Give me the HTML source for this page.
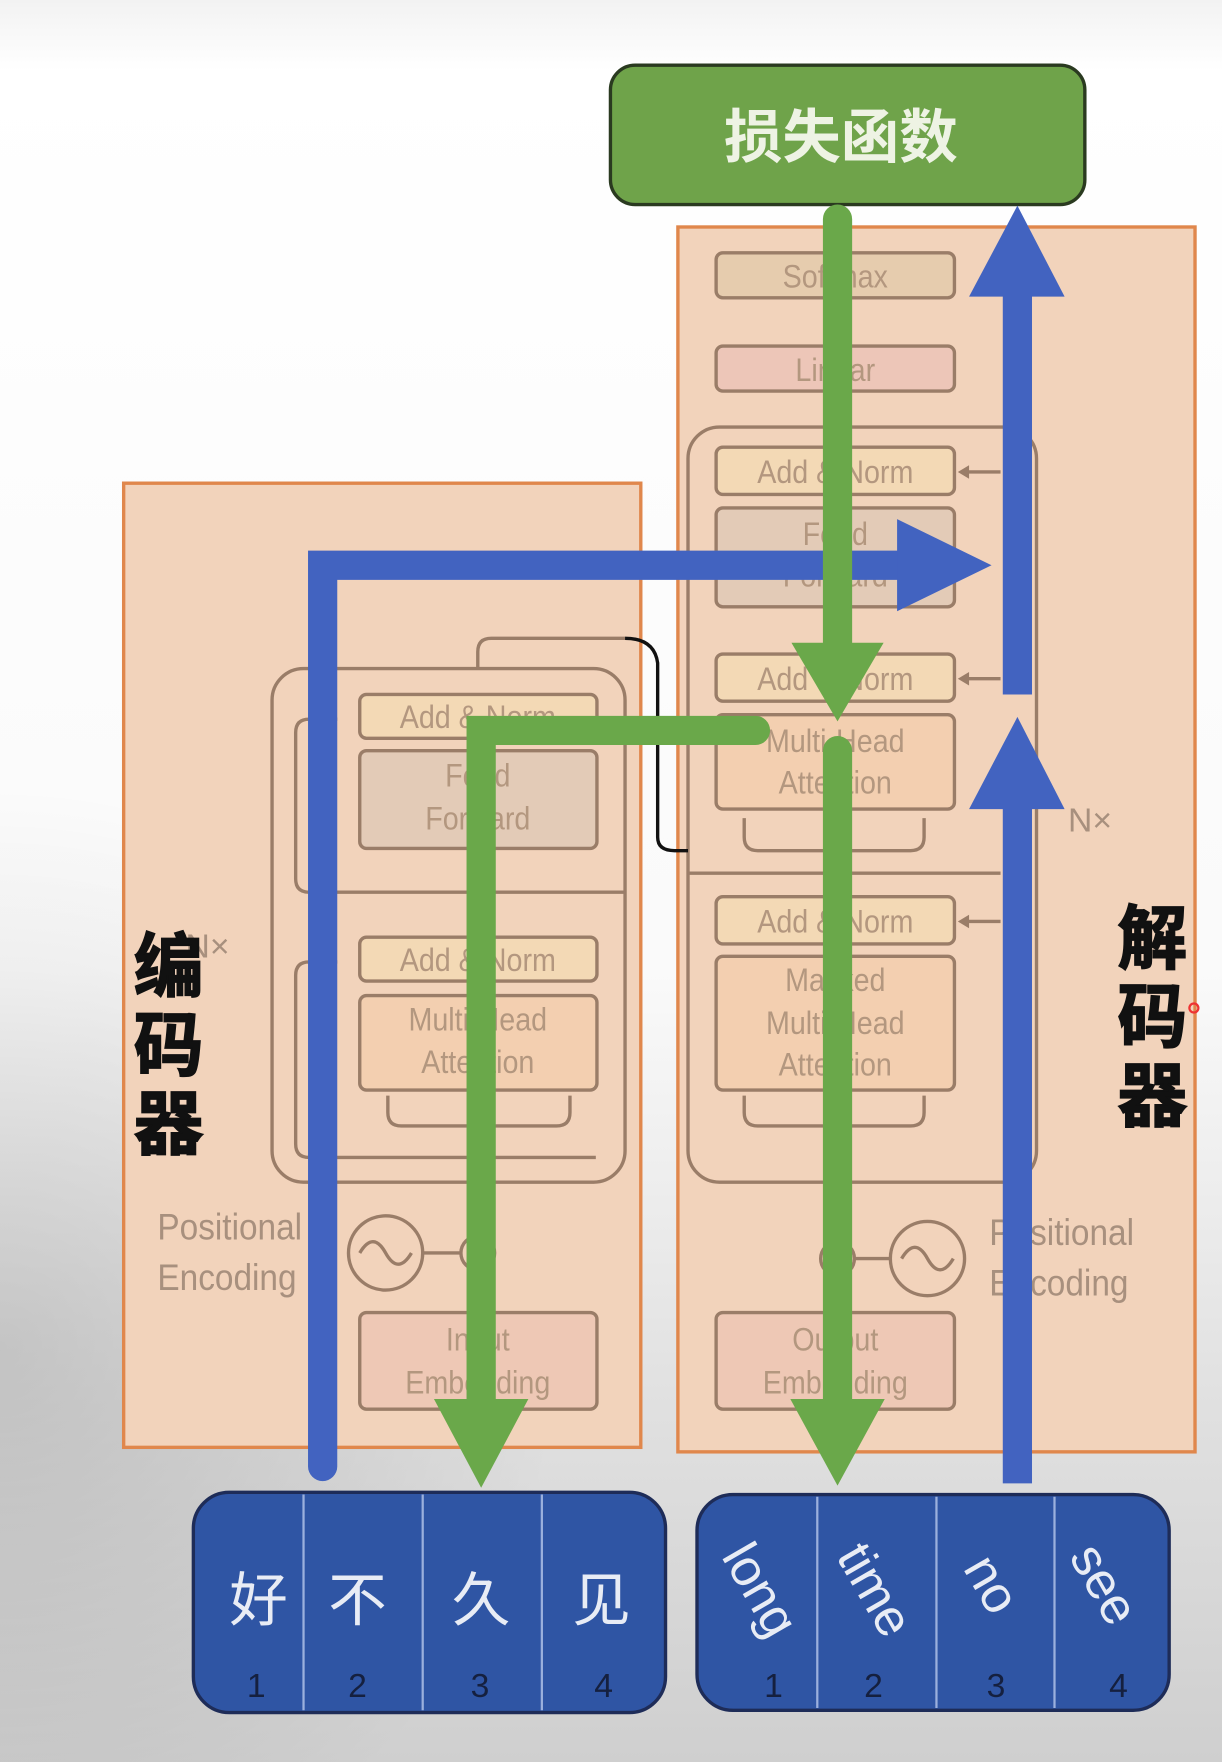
<!DOCTYPE html>
<html><head><meta charset="utf-8">
<style>
html,body{margin:0;padding:0;width:1222px;height:1762px;overflow:hidden;}
svg{display:block;}
text{font-family:"Liberation Sans","Noto Sans CJK SC",sans-serif;}
</style></head>
<body>
<svg width="1222" height="1762" viewBox="0 0 1087 1568" preserveAspectRatio="none" xmlns="http://www.w3.org/2000/svg">
<defs>
<linearGradient id="bg" x1="0" y1="0" x2="0" y2="1">
<stop offset="0" stop-color="#f2f2f2"/>
<stop offset="0.04" stop-color="#ffffff"/>
<stop offset="0.55" stop-color="#fafafa"/>
<stop offset="0.8" stop-color="#e0e0e0"/>
<stop offset="1" stop-color="#cfcfcf"/>
</linearGradient>
<radialGradient id="lg" cx="0" cy="1200" r="500" gradientUnits="userSpaceOnUse">
<stop offset="0" stop-color="#000" stop-opacity="0.14"/>
<stop offset="1" stop-color="#000" stop-opacity="0"/>
</radialGradient>
</defs>
<rect width="1087" height="1568" fill="url(#bg)"/>
<rect x="0" y="600" width="600" height="968" fill="url(#lg)"/>

<rect x="543" y="58" width="422" height="124" rx="22" fill="#6fa34a" stroke="#2a3a20" stroke-width="3"/>
<text x="748" y="140" font-size="52" font-weight="bold" fill="#eef3e4" text-anchor="middle">损失函数</text>

<rect x="603" y="202" width="460" height="1090" fill="#f2d3bb" stroke="#e0874c" stroke-width="3"/>
<rect x="110" y="430" width="460" height="858" fill="#f2d3bb" stroke="#e0874c" stroke-width="3"/>

<g stroke="#9a7d68" stroke-width="3" fill="none">
<rect x="612" y="380" width="310" height="672" rx="28"/>
<path d="M612 777 H890"/>
<rect x="242" y="595" width="314" height="457" rx="28"/>
<path d="M300 640 H275 Q263 640 263 652 V782 Q263 794 275 794 H556"/>
<path d="M300 856 H275 Q263 856 263 868 V1018 Q263 1030 275 1030 H530"/>
<path d="M425 595 V580 Q425 568 437 568 H556"/>
<path d="M345 975 V990 Q345 1002 357 1002 H495 Q507 1002 507 990 V975"/>
<path d="M662 975 V990 Q662 1002 674 1002 H810 Q822 1002 822 990 V975"/>
<path d="M662 728 V745 Q662 757 674 757 H810 Q822 757 822 745 V728"/>
<path d="M890 420 H858 M890 604 H858 M890 820 H858"/>
<circle cx="343" cy="1115" r="33"/><circle cx="425" cy="1115" r="15"/><path d="M376 1115 H410"/>
<path d="M320 1115 Q332 1095 343 1115 Q354 1135 366 1115"/>
<circle cx="825" cy="1120" r="33"/><circle cx="745" cy="1120" r="15"/><path d="M760 1120 H792"/>
<path d="M802 1120 Q814 1100 825 1120 Q836 1140 848 1120"/>
</g>
<g fill="#9a7d68">
<polygon points="852,420 862,414 862,426"/><polygon points="852,604 862,598 862,610"/><polygon points="852,820 862,814 862,826"/>
</g>
<path d="M556 568 Q582 568 585 590 V745 Q585 757 600 757 H612" stroke="#111" stroke-width="3" fill="none"/>

<g stroke="#9a7d68" stroke-width="3">
<rect x="637" y="225" width="212" height="40" rx="6" fill="#e6ccae"/>
<rect x="637" y="308" width="212" height="40" rx="6" fill="#edc6b8"/>
<rect x="637" y="398" width="212" height="42" rx="6" fill="#f3d9b5"/>
<rect x="637" y="452" width="212" height="88" rx="6" fill="#e3cbb7"/>
<rect x="637" y="582" width="212" height="42" rx="6" fill="#f3d9b5"/>
<rect x="637" y="636" width="212" height="84" rx="6" fill="#f3cfb0"/>
<rect x="637" y="798" width="212" height="42" rx="6" fill="#f3d9b5"/>
<rect x="637" y="851" width="212" height="119" rx="6" fill="#f3cfb0"/>
<rect x="637" y="1168" width="212" height="86" rx="6" fill="#eec8b5"/>
<rect x="320" y="618" width="211" height="39" rx="6" fill="#f3d9b5"/>
<rect x="320" y="668" width="211" height="87" rx="6" fill="#e3cbb7"/>
<rect x="320" y="834" width="211" height="39" rx="6" fill="#f3d9b5"/>
<rect x="320" y="886" width="211" height="84" rx="6" fill="#f3cfb0"/>
<rect x="320" y="1168" width="211" height="86" rx="6" fill="#eec8b5"/>
</g>

<g font-size="29" fill="#b3977f" text-anchor="middle">
<g transform="translate(743 0) scale(0.88 1)">
<text x="0" y="256">Softmax</text>
<text x="0" y="339">Linear</text>
<text x="0" y="430">Add &amp; Norm</text>
<text x="0" y="485">Feed</text><text x="0" y="522">Forward</text>
<text x="0" y="614">Add &amp; Norm</text>
<text x="0" y="669">Multi-Head</text><text x="0" y="706">Attention</text>
<text x="0" y="830">Add &amp; Norm</text>
<text x="0" y="882">Masked</text><text x="0" y="920">Multi-Head</text><text x="0" y="957">Attention</text>
<text x="0" y="1202">Output</text><text x="0" y="1240">Embedding</text>
</g>
<g transform="translate(425 0) scale(0.88 1)">
<text x="0" y="648">Add &amp; Norm</text>
<text x="0" y="700">Feed</text><text x="0" y="738">Forward</text>
<text x="0" y="864">Add &amp; Norm</text>
<text x="0" y="917">Multi-Head</text><text x="0" y="955">Attention</text>
<text x="0" y="1202">Input</text><text x="0" y="1240">Embedding</text>
</g>
</g>
<g font-size="33" fill="#a8907e">
<g transform="translate(140 0) scale(0.9 1)"><text x="0" y="1103">Positional</text><text x="0" y="1148">Encoding</text></g>
<g transform="translate(880 0) scale(0.9 1)"><text x="0" y="1108">Positional</text><text x="0" y="1153">Encoding</text></g>
<text x="950" y="740" font-size="30">N×</text>
<text x="165" y="852" font-size="30">N×</text>
</g>

<g font-size="62" font-weight="bold" fill="#111" text-anchor="middle" stroke="#111" stroke-width="1.5">
<text x="150" y="882">编</text><text x="150" y="952">码</text><text x="150" y="1022">器</text>
<text x="1025" y="857">解</text><text x="1025" y="927">码</text><text x="1025" y="997">器</text>
</g>
<circle cx="1062" cy="897" r="4" fill="none" stroke="#e33" stroke-width="2"/>

<g stroke="#4263c0" stroke-width="26" fill="none" stroke-linecap="round">
<path d="M287 1305 V503 H810" stroke-linejoin="miter"/>
<path d="M905 618 V255" stroke-linecap="butt"/>
<path d="M905 1320 V712" stroke-linecap="butt"/>
</g>
<g fill="#4263c0">
<polygon points="798,462 882,503 798,544"/>
<polygon points="862,264 905,183 947,264"/>
<polygon points="862,720 905,638 947,720"/>
</g>
<g stroke="#6aa84a" stroke-width="26" fill="none" stroke-linecap="round">
<path d="M745 195 V580"/>
<path d="M672 650 H428 V1250"/>
<path d="M745 668 V1250"/>
</g>
<g fill="#6aa84a">
<polygon points="704,572 786,572 745,642"/>
<polygon points="386,1245 470,1245 428,1324"/>
<polygon points="703,1245 787,1245 745,1322"/>
</g>

<rect x="172" y="1328" width="420" height="196" rx="32" fill="#2f55a4" stroke="#1e2c58" stroke-width="3"/>
<rect x="620" y="1330" width="420" height="192" rx="32" fill="#2f55a4" stroke="#1e2c58" stroke-width="3"/>
<g stroke="#9bb0dd" stroke-width="2">
<path d="M270 1330 V1522 M376 1330 V1522 M482 1330 V1522"/>
<path d="M727 1332 V1520 M833 1332 V1520 M938 1332 V1520"/>
</g>
<g font-size="52" fill="#e8ecf5" text-anchor="middle">
<text x="230" y="1442">好</text><text x="318" y="1442">不</text>
<text x="428" y="1442">久</text><text x="535" y="1442">见</text>
</g>
<g font-size="46" fill="#e8ecf5" text-anchor="middle">
<text transform="translate(676,1415) rotate(60)" dy="15">long</text>
<text transform="translate(778,1415) rotate(60)" dy="15">time</text>
<text transform="translate(882,1410) rotate(60)" dy="15">no</text>
<text transform="translate(982,1410) rotate(60)" dy="15">see</text>
</g>
<g font-size="30" fill="#15203f" text-anchor="middle">
<text x="228" y="1510">1</text><text x="318" y="1510">2</text><text x="427" y="1510">3</text><text x="537" y="1510">4</text>
<text x="688" y="1510">1</text><text x="777" y="1510">2</text><text x="886" y="1510">3</text><text x="995" y="1510">4</text>
</g>
</svg>
</body></html>
